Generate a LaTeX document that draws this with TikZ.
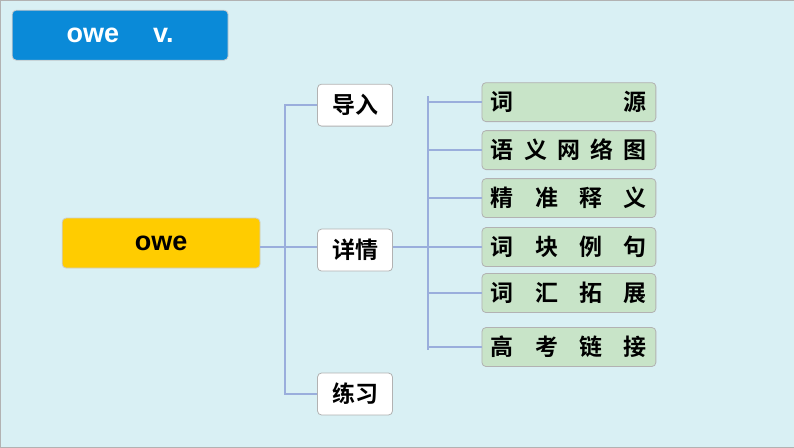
\documentclass[tikz,border=0pt]{standalone}
\usepackage{fontspec}
\setmainfont{Liberation Sans}
\newfontfamily\cjk{Noto Sans CJK SC Bold}
\begin{document}
\begin{tikzpicture}[x=1pt,y=-1pt,
 box/.style={draw=gray!60,line width=0.8pt,rounded corners=4pt,minimum height=39pt,inner sep=0pt,font=\cjk\fontsize{23}{23}\selectfont},
 mid/.style={box,fill=white,minimum width=75pt,minimum height=42pt},
 leaf/.style={box,fill=leafc,minimum width=174pt},
 ln/.style={draw=linec,line width=2pt}]
\definecolor{bg}{HTML}{D9F0F4}\definecolor{leafc}{HTML}{C8E4C8}\definecolor{linec}{HTML}{9AAEDC}
\fill[bg,draw=gray!60] (0,0) rectangle (794,447);
\useasboundingbox (0,0) rectangle (794,447);
\node[box,fill={rgb,255:red,10;green,138;blue,216},draw=gray!40,minimum width=216pt,minimum height=50pt,text=white,font=\bfseries\fontsize{27}{27}\selectfont] (t) at (120,35) {owe\hspace{34pt}v.};
\node[box,fill={rgb,255:red,255;green,204;blue,0},draw=gray!40,minimum width=198pt,minimum height=50pt,font=\bfseries\fontsize{27}{27}\selectfont] (o) at (161,243) {owe};
\node[mid] (a) at (355,105) {导入};
\node[mid] (b) at (355,250) {详情};
\node[mid] (c) at (355,394) {练习};
\coordinate (j1) at (285,247);
\draw[ln] (o.east|-j1) -- (b.west|-j1);
\draw[ln] (a.west) -| (285,0|-a.west) -- (285,0|-c.west) -- (c.west);
\foreach \n/\y/\t in {l1/102/{词\hfill 源},l2/150/{语\hfill 义\hfill 网\hfill 络\hfill 图},l3/198/{精\hfill 准\hfill 释\hfill 义},l4/247/{词\hfill 块\hfill 例\hfill 句},l5/293/{词\hfill 汇\hfill 拓\hfill 展},l6/347/{高\hfill 考\hfill 链\hfill 接}}
 {\node[leaf] (\n) at (569,\y) {\makebox[156pt][s]{\t}};
  \draw[ln] (428,\y) -- (\n.west);}
\draw[ln] (428,96) -- (428,350);
\draw[ln] (b.east|-j1) -- (428,0|-j1);
\end{tikzpicture}
\end{document}
